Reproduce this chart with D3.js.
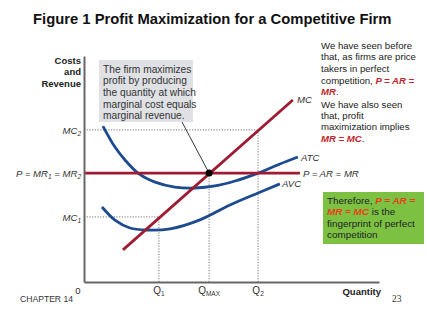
<!DOCTYPE html>
<html>
<head>
<meta charset="utf-8">
<script src="https://cdn.jsdelivr.net/npm/d3@7"></script>
<style>
  body { margin: 0; background: #fff; }
  text { font-family: "Liberation Sans", Arial, sans-serif; }
</style>
</head>
<body>
<div id="grafico"></div>
<script>
const width  = 427;
const height = 320;

// quantities and cost levels (chart units)
const qMarks   = [ { name: "Q", sub: "1", q: 2.54 }, { name: "Q", sub: "MAX", q: 4.24 }, { name: "Q", sub: "2", q: 5.90 } ];
const price    = 4.82;
const mc1      = 2.88;
const mc2      = 6.73;
const priceEnd = 7.32;

const mcLine  = [ [1.32, 1.42], [7.08, 8.05] ];
const atcData = [ [0.64, 6.90], [1.05, 5.97], [1.39, 5.40], [1.83, 4.82], [2.41, 4.42], [3.08, 4.20],
                  [3.76, 4.16], [4.44, 4.25], [5.12, 4.47], [5.90, 4.82], [6.64, 5.22], [7.25, 5.53] ];
const avcData = [ [0.61, 3.32], [1.05, 2.74], [1.56, 2.39], [2.14, 2.30], [2.92, 2.35], [3.93, 2.75],
                  [4.95, 3.41], [5.90, 3.94], [6.64, 4.34] ];

const sideText1 = [
  [["We have seen before", 0]],
  [["that, as firms are price", 0]],
  [["takers in perfect", 0]],
  [["competition, ", 0], ["P = AR =", 1]],
  [["MR", 1], [".", 0]],
  [["We have also seen", 0]],
  [["that, profit", 0]],
  [["maximization implies", 0]],
  [["MR = MC", 1], [".", 0]]
];
const sideText2 = [
  [["Therefore, ", 0], ["P = AR =", 1]],
  [["MR = MC", 1], [" is the", 0]],
  [["fingerprint of perfect", 0]],
  [["competition", 0]]
];
const boxText = ["The firm maximizes", "profit by producing", "the quantity at which", "marginal cost equals", "marginal revenue."];

const red  = "#9e1b32";
const blue = "#1d4b8f";

const svg = d3.select("#grafico")
              .append("svg")
              .attr("width", width)
              .attr("height", height);

const xScale = d3.scaleLinear().domain([0, 10]).range([84, 379]);
const yScale = d3.scaleLinear().domain([0, 10]).range([282, 56]);

// title
svg.append("text")
   .attr("x", 33).attr("y", 24)
   .attr("font-size", 14.8).attr("font-weight", "bold").attr("fill", "#111")
   .text("Figure 1 Profit Maximization for a Competitive Firm");

// gray note box
svg.append("rect")
   .attr("x", 99).attr("y", 60).attr("width", 94).attr("height", 62)
   .attr("fill", "#dfe1e4");
svg.append("g").selectAll("text")
   .data(boxText)
   .join("text")
   .attr("x", 103).attr("y", (d, i) => 72.8 + i * 11.6)
   .attr("font-size", 10.2).attr("fill", "#333")
   .text(d => d);

// dotted guides
const dotted = [
  [[0, mc2], [qMarks[2].q, mc2]], [[qMarks[2].q, 0], [qMarks[2].q, mc2]],
  [[0, mc1], [qMarks[0].q, mc1]], [[qMarks[0].q, 0], [qMarks[0].q, mc1]],
  [[qMarks[1].q, 0], [qMarks[1].q, price]]
];
const line = d3.line().x(d => xScale(d[0])).y(d => yScale(d[1]));
svg.append("g").selectAll("path")
   .data(dotted)
   .join("path")
   .attr("d", line)
   .attr("stroke", "#555").attr("stroke-width", 0.8)
   .attr("stroke-dasharray", "1.2,1.5").attr("fill", "none");

// pointer
svg.append("line")
   .attr("x1", 182).attr("y1", 122)
   .attr("x2", xScale(qMarks[1].q)).attr("y2", yScale(price))
   .attr("stroke", "#222").attr("stroke-width", 0.9);

// cost curves
const curve = d3.line().x(d => xScale(d[0])).y(d => yScale(d[1])).curve(d3.curveCatmullRom);
svg.append("path").attr("d", curve(atcData))
   .attr("stroke", blue).attr("stroke-width", 2.8).attr("fill", "none");
svg.append("path").attr("d", curve(avcData))
   .attr("stroke", blue).attr("stroke-width", 2.8).attr("fill", "none");

// price line
svg.append("path").attr("d", line([[0, price], [priceEnd, price]]))
   .attr("stroke", red).attr("stroke-width", 2.8).attr("fill", "none");

// MC line
svg.append("path").attr("d", line(mcLine))
   .attr("stroke", red).attr("stroke-width", 2.8).attr("fill", "none");

// equilibrium point
svg.append("circle")
   .attr("cx", xScale(qMarks[1].q)).attr("cy", yScale(price)).attr("r", 3.5)
   .attr("fill", "#000");

// axes
const xAxis = d3.axisBottom(xScale).tickValues([]).tickSizeOuter(0);
const yAxis = d3.axisLeft(yScale).tickValues([]).tickSizeOuter(0);
svg.append("g").attr("transform", `translate(0, ${yScale(0)})`).call(xAxis)
   .select(".domain").attr("stroke", "#666").attr("stroke-width", 2);
svg.append("g").attr("transform", `translate(${xScale(0)}, 0)`).call(yAxis)
   .select(".domain").attr("stroke", "#666").attr("stroke-width", 2);

// y labels
const yLabels = [ { v: mc2, t: [["MC", 0], ["2", 1]] },
                  { v: price, t: [["P = MR", 0], ["1", 1], [" = MR", 0], ["2", 1]] },
                  { v: mc1, t: [["MC", 0], ["1", 1]] } ];
yLabels.forEach(l => {
  const t = svg.append("text")
     .attr("x", 81).attr("y", yScale(l.v) + 3.6)
     .attr("text-anchor", "end").attr("font-size", 9.6)
     .attr("font-style", "italic").attr("fill", "#333");
  let low = false;
  l.t.forEach(p => {
    const s = t.append("tspan").text(p[0]);
    if (p[1]) { s.attr("font-size", 6.5).attr("dy", 2); low = true; }
    else if (low) { s.attr("dy", -2); low = false; }
  });
});

// Q labels
qMarks.forEach(m => {
  const t = svg.append("text")
     .attr("x", xScale(m.q)).attr("y", 294)
     .attr("text-anchor", "middle").attr("font-size", 10).attr("fill", "#333");
  t.append("tspan").text(m.name);
  t.append("tspan").attr("font-size", 6.5).attr("dy", 2).text(m.sub);
});

// curve labels
const curveLabels = [ ["MC", 297, 103], ["ATC", 301, 161], ["AVC", 282, 187], ["P = AR = MR", 303, 177] ];
svg.append("g").selectAll("text")
   .data(curveLabels)
   .join("text")
   .attr("x", d => d[1]).attr("y", d => d[2])
   .attr("font-size", 9.6).attr("fill", "#333")
   .attr("font-style", "italic")
   .text(d => d[0]);

// axis titles
["Costs", "and", "Revenue"].forEach((s, i) => {
  svg.append("text").attr("x", 81).attr("y", 63.5 + i * 11.7)
     .attr("text-anchor", "end").attr("font-size", 9.5).attr("font-weight", "bold")
     .attr("fill", "#222").text(s);
});
svg.append("text").attr("x", 381).attr("y", 295)
   .attr("text-anchor", "end").attr("font-size", 9.5).attr("font-weight", "bold")
   .attr("fill", "#222").text("Quantity");
svg.append("text").attr("x", 78).attr("y", 293.5)
   .attr("text-anchor", "middle").attr("font-size", 9.5).attr("fill", "#333").text("0");
svg.append("text").attr("x", 20).attr("y", 301.5)
   .attr("font-size", 8.6).attr("fill", "#333").text("CHAPTER 14");
svg.append("text").attr("x", 392).attr("y", 302)
   .attr("font-size", 9.5).attr("fill", "#333")
   .style("font-family", "'Liberation Serif', serif").text("23");

// side notes
function richLines(lines, x, y0, step, hi, size) {
  lines.forEach((parts, i) => {
    const t = svg.append("text").attr("x", x).attr("y", y0 + i * step)
                 .attr("font-size", size).attr("fill", "#222");
    parts.forEach(p => {
      const s = t.append("tspan").text(p[0]);
      if (p[1]) s.attr("fill", hi).attr("font-weight", "bold").attr("font-style", "italic");
    });
  });
}
richLines(sideText1.slice(0, 5), 321, 48.5, 11.7, "#c3262e", 9.6);
richLines(sideText1.slice(5), 321, 107.5, 11.4, "#c3262e", 9.6);

svg.append("rect")
   .attr("x", 323).attr("y", 192).attr("width", 101).attr("height", 52)
   .attr("fill", "#7cc142");
richLines(sideText2, 327, 204, 11.3, "#e8401c", 9.9);
</script>
</body>
</html>
